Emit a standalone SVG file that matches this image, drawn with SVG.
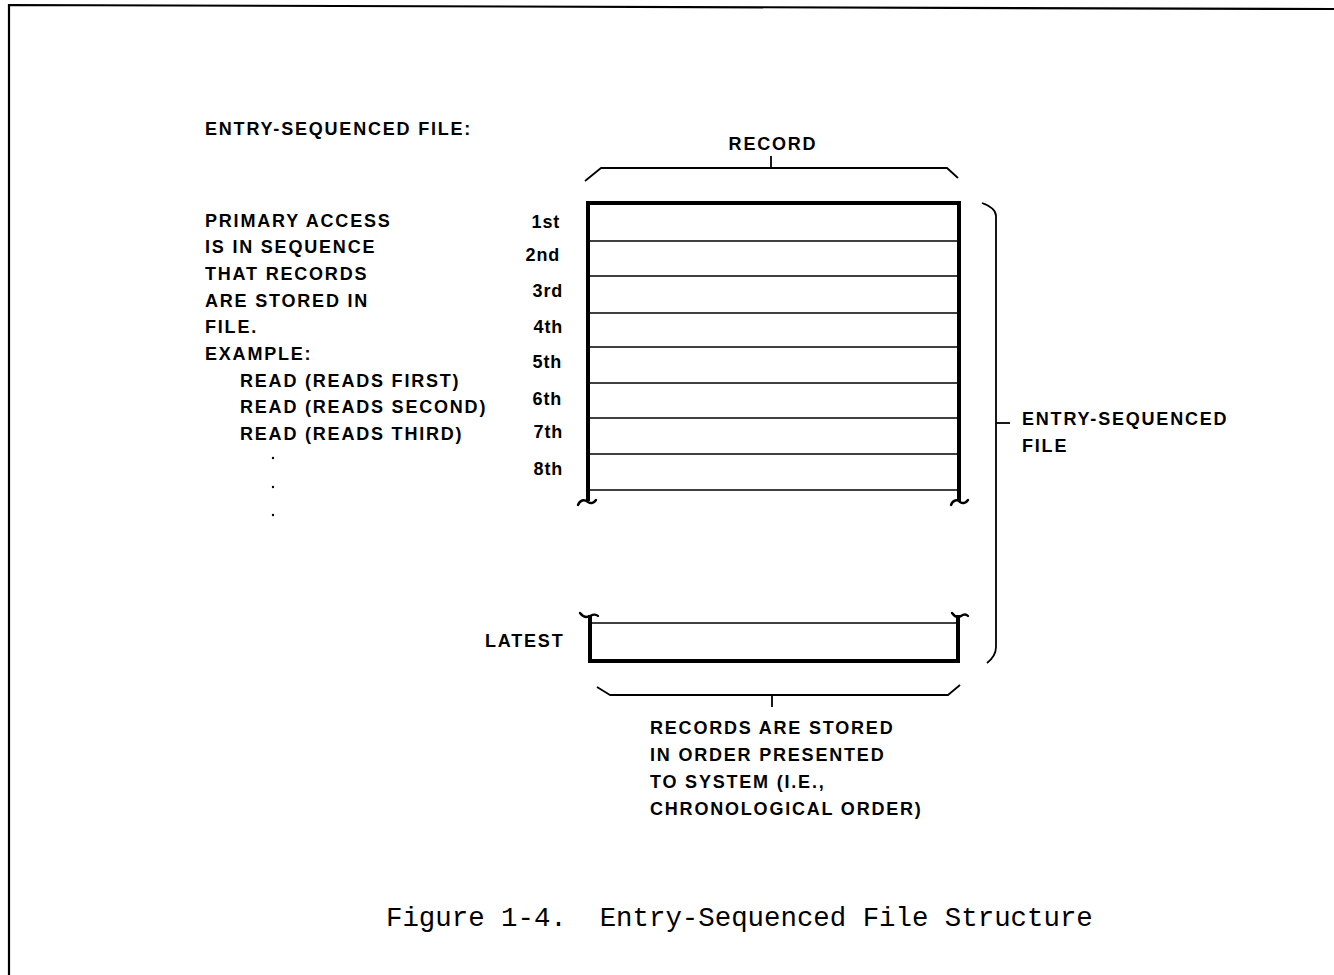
<svg xmlns="http://www.w3.org/2000/svg" width="1334" height="975" viewBox="0 0 1334 975">
<style>
.t{font-family:"Liberation Sans",Arial,sans-serif;font-weight:bold;font-size:18px;letter-spacing:1.8px;fill:#000}
.o{font-family:"Liberation Sans",Arial,sans-serif;font-weight:bold;font-size:18px;letter-spacing:0.8px;fill:#000}
.cap{font-family:"Liberation Mono","Courier New",monospace;font-size:27.4px;fill:#000;white-space:pre}
.thick{stroke:#000;stroke-width:4;fill:none;stroke-linecap:square}
.thin{stroke:#000;stroke-width:1.6;fill:none}
.br{stroke:#000;stroke-width:1.8;fill:none;stroke-linejoin:round}
.tl{stroke:#000;stroke-width:2.4;fill:none;stroke-linecap:round}
</style>
<rect width="1334" height="975" fill="#fff"/>
<g id="frame">
<path d="M9,975 L9,5 L1334,9" stroke="#000" stroke-width="2.2" fill="none"/>
</g>
<g id="left-text">
<text class="t" x="205" y="135">ENTRY-SEQUENCED FILE:</text>
<text class="t" x="205" y="227">PRIMARY ACCESS</text>
<text class="t" x="205" y="253">IS IN SEQUENCE</text>
<text class="t" x="205" y="280">THAT RECORDS</text>
<text class="t" x="205" y="307">ARE STORED IN</text>
<text class="t" x="205" y="333">FILE.</text>
<text class="t" x="205" y="360">EXAMPLE:</text>
<text class="t" x="240" y="387">READ (READS FIRST)</text>
<text class="t" x="240" y="413">READ (READS SECOND)</text>
<text class="t" x="240" y="440">READ (READS THIRD)</text>
<circle cx="273" cy="458" r="1.2" fill="#000"/>
<circle cx="273" cy="487" r="1.2" fill="#000"/>
<circle cx="273" cy="515" r="1.2" fill="#000"/>
</g>
<g id="record-label">
<text class="t" x="773" y="150" text-anchor="middle">RECORD</text>
</g>
<g id="ordinals">
<text class="o" x="560" y="228" text-anchor="end">1st</text>
<text class="o" x="560" y="261" text-anchor="end">2nd</text>
<text class="o" x="563" y="297" text-anchor="end">3rd</text>
<text class="o" x="563" y="333" text-anchor="end">4th</text>
<text class="o" x="562" y="368" text-anchor="end">5th</text>
<text class="o" x="562" y="405" text-anchor="end">6th</text>
<text class="o" x="563" y="438" text-anchor="end">7th</text>
<text class="o" x="563" y="475" text-anchor="end">8th</text>
<text class="t" x="485" y="647">LATEST</text>
</g>
<g id="record-stack">
<line class="thick" x1="588" y1="203" x2="959" y2="203"/>
<line class="thick" x1="588" y1="203" x2="588" y2="499"/>
<line class="thick" x1="959" y1="203" x2="959" y2="499"/>
<line class="thin" x1="588" y1="241" x2="959" y2="241"/>
<line class="thin" x1="588" y1="276" x2="959" y2="276"/>
<line class="thin" x1="588" y1="313" x2="959" y2="313"/>
<line class="thin" x1="588" y1="347" x2="959" y2="347"/>
<line class="thin" x1="588" y1="383" x2="959" y2="383"/>
<line class="thin" x1="588" y1="418" x2="959" y2="418"/>
<line class="thin" x1="588" y1="454" x2="959" y2="454"/>
<line class="thin" x1="588" y1="490" x2="959" y2="490"/>
<path class="tl" d="M578,505 C580,500 584,499 588,502 C591,504 594,503 596,500"/>
<path class="tl" d="M951,505 C953,500 957,499 960,502 C963,504 966,503 968,500"/>
</g>
<g id="latest-record">
<path class="tl" d="M580,613 C583,617 586,618 590,616 C594,614 596,614 598,616"/>
<path class="tl" d="M952,613 C955,617 958,618 961,616 C964,614 966,614 968,616"/>
<line class="thin" x1="590" y1="623" x2="958" y2="623"/>
<line class="thick" x1="590" y1="617" x2="590" y2="661"/>
<line class="thick" x1="958" y1="617" x2="958" y2="661"/>
<line class="thick" x1="590" y1="661" x2="958" y2="661"/>
</g>
<g id="connectors">
<path class="br" d="M585,181 L601,168 L947,168 L958,178"/>
<line class="br" x1="771" y1="156" x2="771" y2="168"/>
<path class="br" d="M982,203 Q996,208 996,216 L996,647 Q996,656 987,663"/>
<line class="br" x1="996" y1="423" x2="1010" y2="423"/>
<path class="br" d="M597,687 L610,695 L948,695 L960,685"/>
<line class="br" x1="772" y1="695" x2="772" y2="707"/>
</g>
<g id="right-label">
<text class="t" x="1022" y="425">ENTRY-SEQUENCED</text>
<text class="t" x="1022" y="452">FILE</text>
</g>
<g id="bottom-label">
<text class="t" x="650" y="734">RECORDS ARE STORED</text>
<text class="t" x="650" y="761">IN ORDER PRESENTED</text>
<text class="t" x="650" y="788">TO SYSTEM (I.E.,</text>
<text class="t" x="650" y="815">CHRONOLOGICAL ORDER)</text>
</g>
<g id="caption">
<text class="cap" x="386" y="926">Figure 1-4.  Entry-Sequenced File Structure</text>
</g>
</svg>
